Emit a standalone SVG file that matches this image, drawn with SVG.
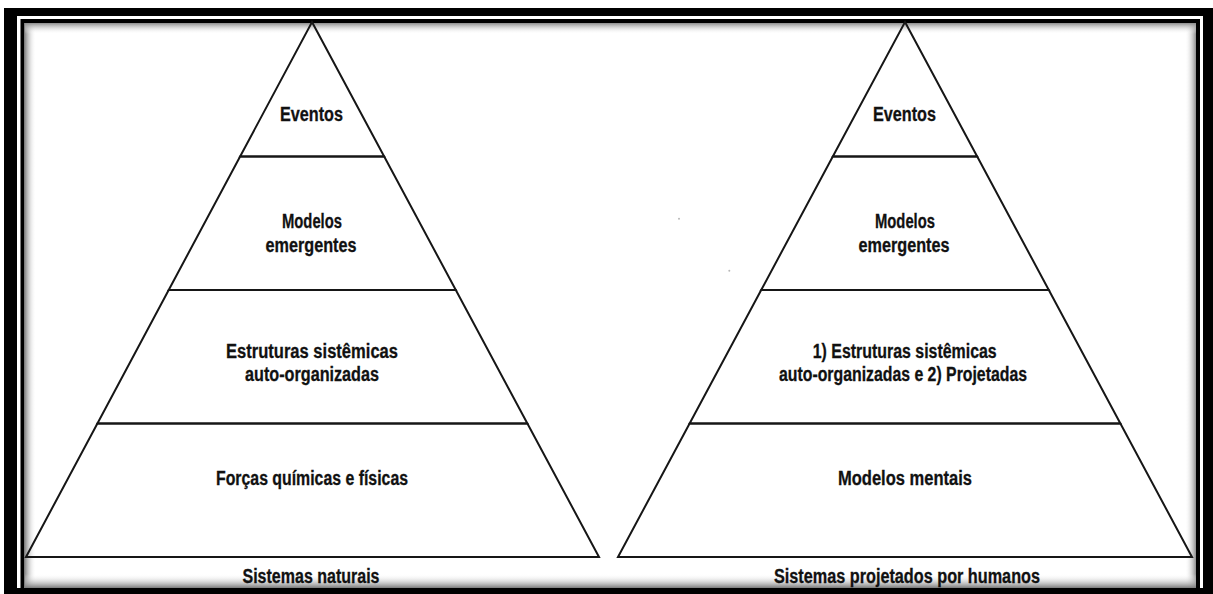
<svg xmlns="http://www.w3.org/2000/svg" width="1213" height="594" viewBox="0 0 1213 594">
  <defs>
    <linearGradient id="shade-left" x1="0" y1="0" x2="1" y2="0">
      <stop offset="0" stop-color="#8c8c8c"/>
      <stop offset="1" stop-color="#fff" stop-opacity="0"/>
    </linearGradient>
    <linearGradient id="shade-right" x1="1" y1="0" x2="0" y2="0">
      <stop offset="0" stop-color="#8c8c8c"/>
      <stop offset="1" stop-color="#fff" stop-opacity="0"/>
    </linearGradient>
    <linearGradient id="shade-top" x1="0" y1="0" x2="0" y2="1">
      <stop offset="0" stop-color="#8c8c8c"/>
      <stop offset="1" stop-color="#fff" stop-opacity="0"/>
    </linearGradient>
    <linearGradient id="shade-bottom" x1="0" y1="1" x2="0" y2="0">
      <stop offset="0" stop-color="#7a7a7a"/>
      <stop offset="1" stop-color="#fff" stop-opacity="0"/>
    </linearGradient>
  </defs>
  <style>
    .edge { fill: none; stroke: #161616; stroke-width: 2; stroke-linejoin: miter; }
    .label { font-family: "Liberation Sans", Arial, sans-serif; font-weight: bold; font-size: 20px; fill: #111; stroke: #111; stroke-width: 0.3; text-anchor: middle; }
    .band { fill: #000; }
  </style>

  <!-- page background -->
  <rect x="0" y="0" width="1213" height="594" fill="#fff"/>

  <!-- double frame with a soft inner shadow -->
  <g id="frame">
    <rect x="25" y="23" width="11" height="565" fill="url(#shade-left)"/>
    <rect x="1185" y="23" width="11" height="565" fill="url(#shade-right)"/>
    <rect x="25" y="23" width="1171" height="11" fill="url(#shade-top)"/>
    <rect x="25" y="574" width="1171" height="14" fill="url(#shade-bottom)"/>
    <path d="M22.5,588 V21 H1198 V588" fill="none" stroke="#000" stroke-width="4"/>
    <rect class="band" x="4" y="8" width="13" height="586"/>
    <rect class="band" x="4" y="8" width="1209" height="8"/>
    <rect class="band" x="1203" y="8" width="10" height="586"/>
    <rect class="band" x="17" y="588" width="1186" height="6"/>
  </g>

  <!-- left pyramid: natural systems -->
  <g id="natural-eventos">
    <polygon class="edge" points="312,22 384.2,156.5 240.1,156.5"/>
    <text class="label" x="311.5" y="121" textLength="63" lengthAdjust="spacingAndGlyphs">Eventos</text>
  </g>
  <g id="natural-modelos">
    <polygon class="edge" points="240.1,156.5 384.2,156.5 455.8,290 168.7,290"/>
    <text class="label" x="312" y="228" textLength="60" lengthAdjust="spacingAndGlyphs">Modelos</text>
    <text class="label" x="311" y="252" textLength="91" lengthAdjust="spacingAndGlyphs">emergentes</text>
  </g>
  <g id="natural-estruturas">
    <polygon class="edge" points="168.7,290 455.8,290 527.4,423.5 97.4,423.5"/>
    <text class="label" x="312" y="358" textLength="172" lengthAdjust="spacingAndGlyphs">Estruturas sistêmicas</text>
    <text class="label" x="312" y="381" textLength="134" lengthAdjust="spacingAndGlyphs">auto-organizadas</text>
  </g>
  <g id="natural-forcas">
    <polygon class="edge" points="97.4,423.5 527.4,423.5 599,557 26,557"/>
    <text class="label" x="312" y="485" textLength="192" lengthAdjust="spacingAndGlyphs">Forças químicas e físicas</text>
  </g>
  <g id="natural-caption">
    <text class="label" x="311" y="583" textLength="137" lengthAdjust="spacingAndGlyphs">Sistemas naturais</text>
  </g>

  <!-- right pyramid: human-designed systems -->
  <g id="projetado-eventos">
    <polygon class="edge" points="905,22 977.2,156.5 832.8,156.5"/>
    <text class="label" x="904.5" y="121" textLength="63" lengthAdjust="spacingAndGlyphs">Eventos</text>
  </g>
  <g id="projetado-modelos">
    <polygon class="edge" points="832.8,156.5 977.2,156.5 1048.8,290 761.2,290"/>
    <text class="label" x="905" y="228" textLength="60" lengthAdjust="spacingAndGlyphs">Modelos</text>
    <text class="label" x="904" y="252" textLength="91" lengthAdjust="spacingAndGlyphs">emergentes</text>
  </g>
  <g id="projetado-estruturas">
    <polygon class="edge" points="761.2,290 1048.8,290 1120.4,423.5 689.6,423.5"/>
    <text class="label" x="904.7" y="358" textLength="184" lengthAdjust="spacingAndGlyphs">1) Estruturas sistêmicas</text>
    <text class="label" x="903" y="381" textLength="248" lengthAdjust="spacingAndGlyphs">auto-organizadas e 2) Projetadas</text>
  </g>
  <g id="projetado-mentais">
    <polygon class="edge" points="689.6,423.5 1120.4,423.5 1192,557 618,557"/>
    <text class="label" x="905" y="485" textLength="134" lengthAdjust="spacingAndGlyphs">Modelos mentais</text>
  </g>
  <g id="projetado-caption">
    <text class="label" x="907" y="583" textLength="266" lengthAdjust="spacingAndGlyphs">Sistemas projetados por humanos</text>
  </g>

  <!-- connectors: none between tiers -->
  <g id="connectors"/>

  <!-- two faint specks in the blank middle -->
  <g id="specks" fill="#b8b8b8">
    <circle cx="679" cy="218.7" r="1"/>
    <circle cx="729.3" cy="270.7" r="1"/>
  </g>
</svg>
